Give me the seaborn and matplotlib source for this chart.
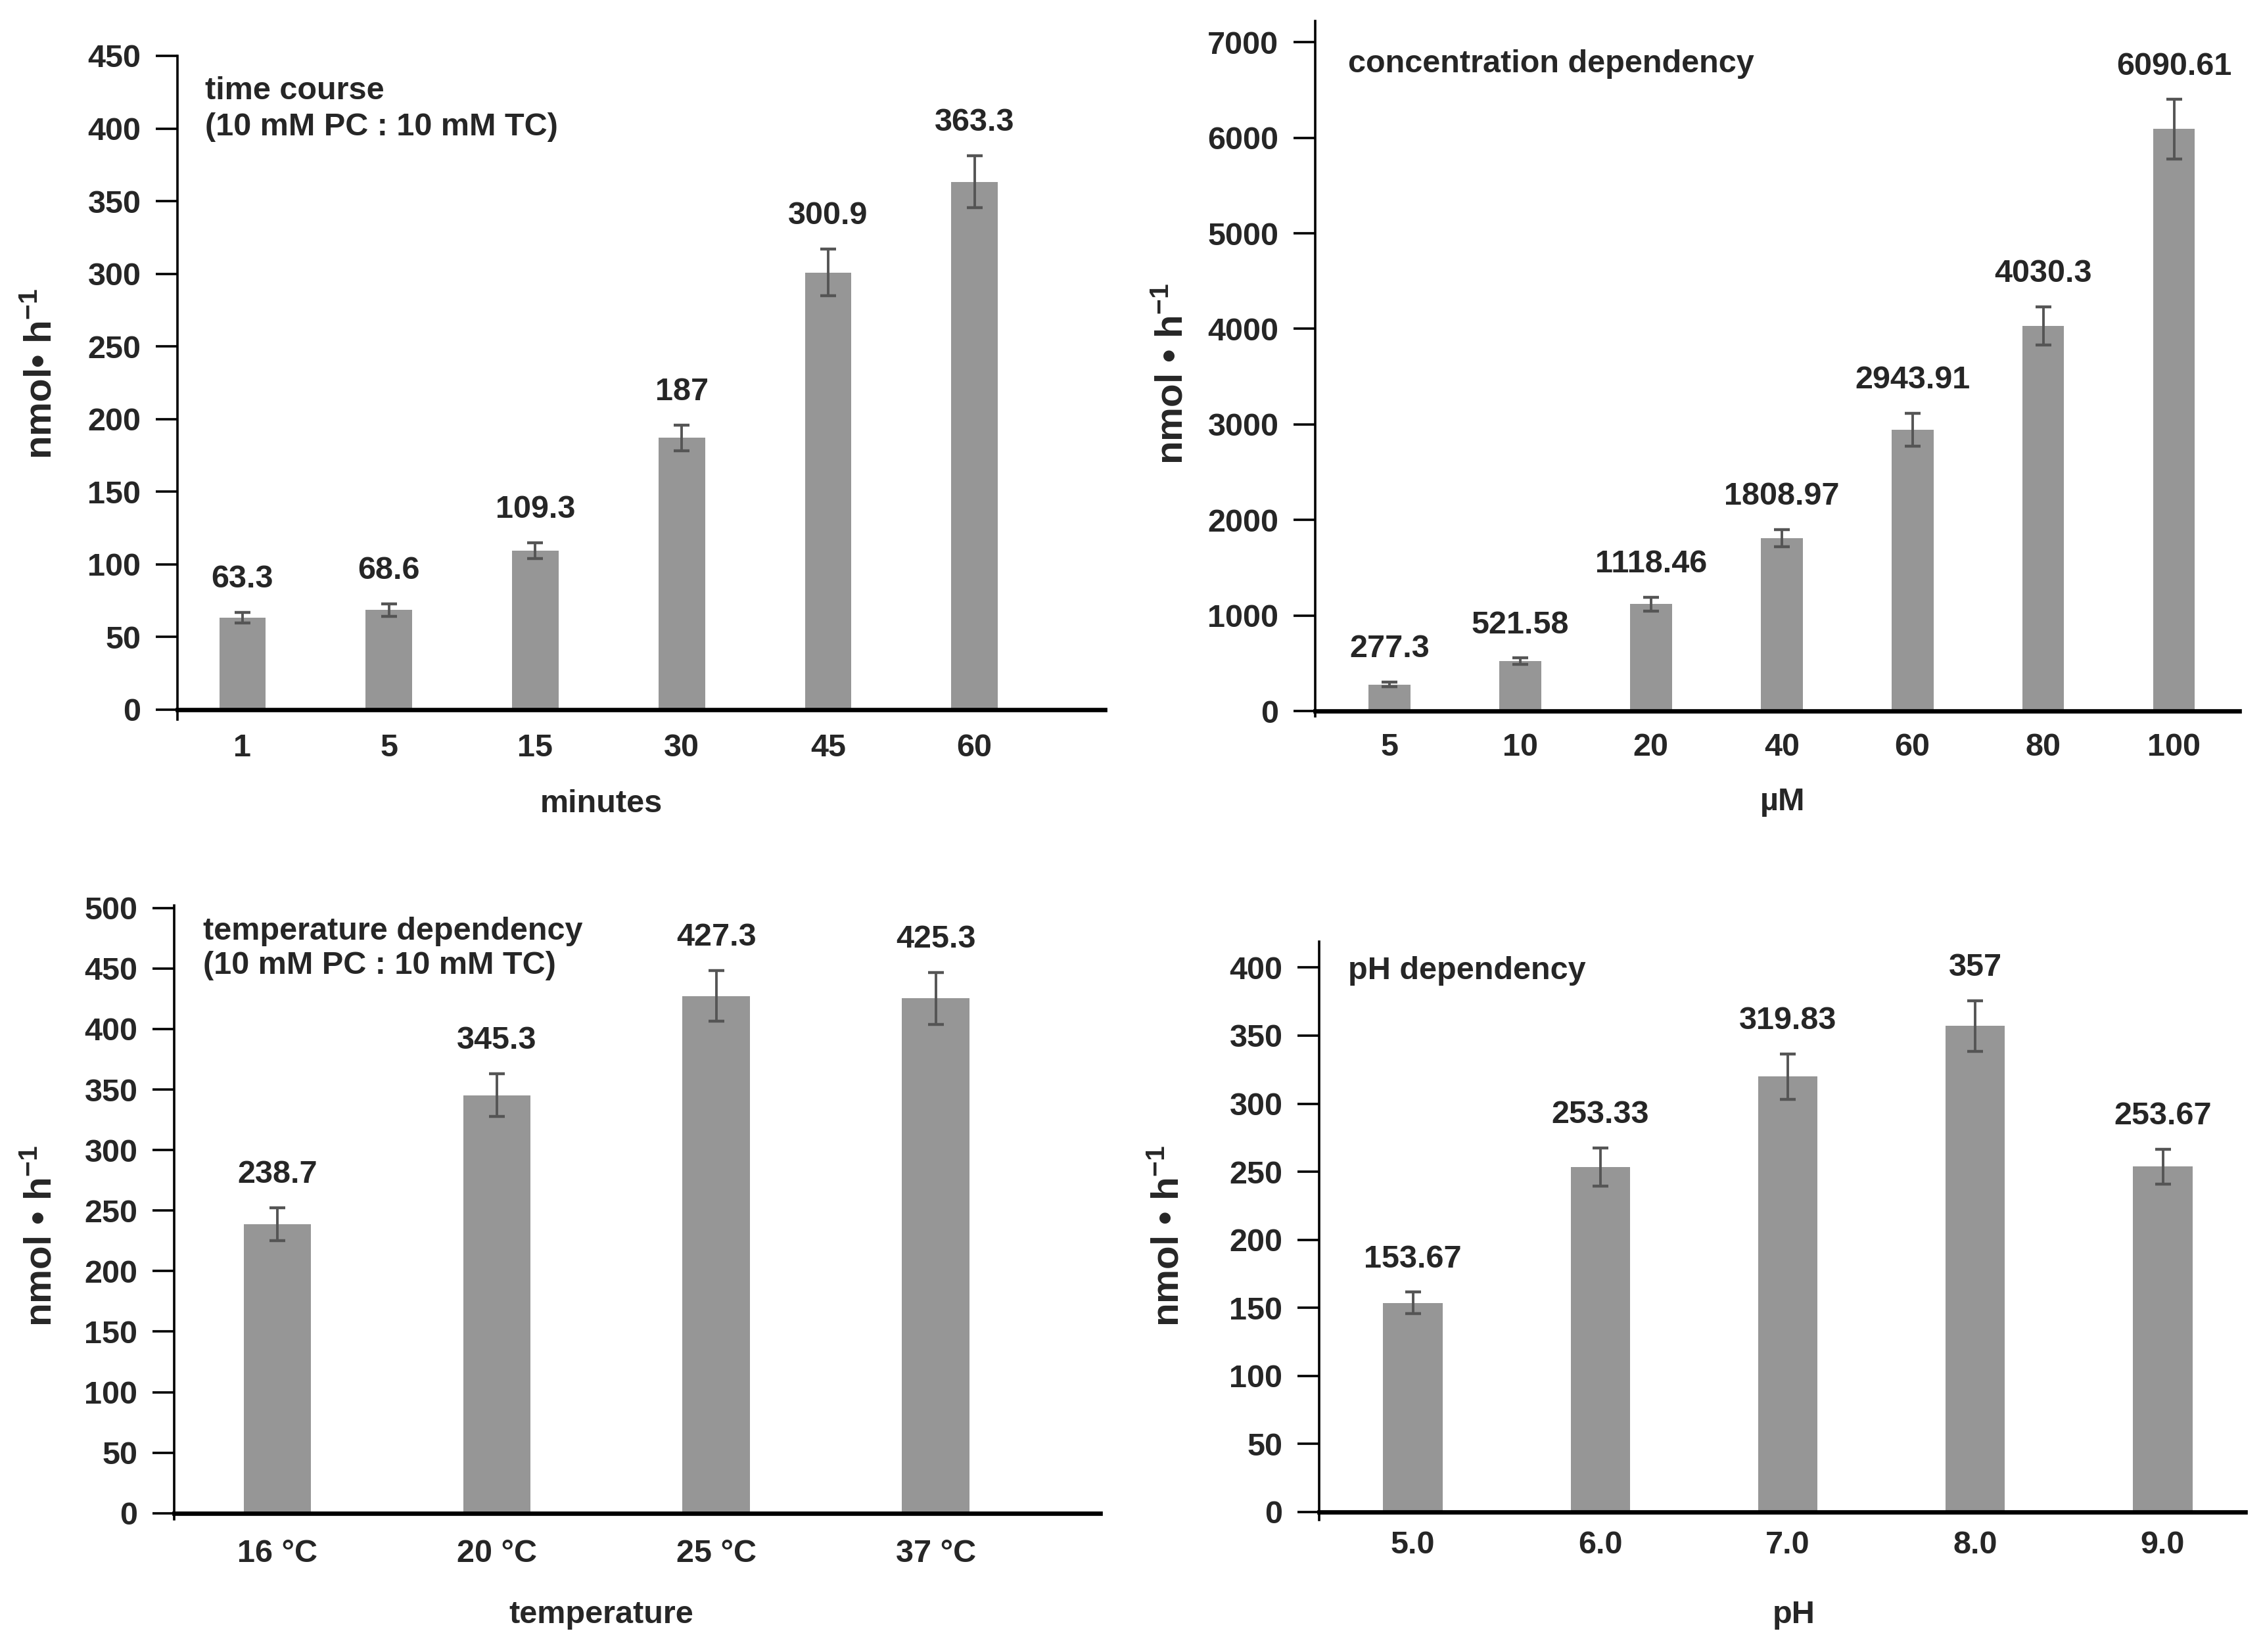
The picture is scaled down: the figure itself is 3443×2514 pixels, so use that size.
import matplotlib
matplotlib.use("Agg")
import matplotlib.pyplot as plt
import seaborn as sns
import pandas as pd

# ---- data ----
minutes = ["1", "5", "15", "30", "45", "60"]
time_vals = [63.3, 68.6, 109.3, 187, 300.9, 363.3]
time_err = [3.5, 4.4, 5.5, 9, 16, 18]

conc_um = ["5", "10", "20", "40", "60", "80", "100"]
conc_vals = [277.3, 521.58, 1118.46, 1808.97, 2943.91, 4030.3, 6090.61]
conc_err = [25, 33, 70, 90, 175, 200, 310]

temps = ["16 \u00b0C", "20 \u00b0C", "25 \u00b0C", "37 \u00b0C"]
temp_vals = [238.7, 345.3, 427.3, 425.3]
temp_err = [13.5, 17.7, 21, 21.5]

ph_levels = ["5.0", "6.0", "7.0", "8.0", "9.0"]
ph_vals = [153.67, 253.33, 319.83, 357, 253.67]
ph_err = [7.8, 14, 16.7, 18.5, 13]

W, H = 3443, 2514
DPI = 200
BAR = "#969696"
ERR = "#555555"

sns.set_theme(style="white")
plt.rcParams["font.family"] = ["Liberation Sans", "DejaVu Sans"]
plt.rcParams["font.weight"] = "bold"
plt.rcParams["mathtext.fontset"] = "custom"
plt.rcParams["mathtext.rm"] = "Liberation Sans:bold"
plt.rcParams["mathtext.bf"] = "Liberation Sans:bold"
plt.rcParams["mathtext.default"] = "bf"

fig = plt.figure(figsize=(W / DPI, H / DPI), dpi=DPI)


def fxy(x, y):
    return x / W, 1 - y / H


def panel(box, cats, vals, errs, width, ylim, yticks, xlim, xlabel, ylabel,
          note, note_xy, ylab_xy, xlab_xy, xpad, linesp=1.25):
    l, t, r, b = box
    ax = fig.add_axes([l / W, 1 - b / H, (r - l) / W, (b - t) / H])
    df = pd.DataFrame({"cat": cats, "val": vals})
    sns.barplot(data=df, x="cat", y="val", order=cats, color=BAR, saturation=1,
                width=width, errorbar=None, edgecolor="none", ax=ax)
    ax.errorbar(range(len(cats)), vals, yerr=errs, fmt="none", ecolor=ERR,
                elinewidth=1.4, capsize=4.2, capthick=1.6, zorder=3)
    for i, (v, e) in enumerate(zip(vals, errs)):
        ax.annotate(f"{v:g}", (i, v + e), xytext=(0, 10), textcoords="offset points",
                    ha="center", va="bottom", fontsize=17.5, fontweight="bold")

    ax.set_xlim(*xlim)
    ax.set_ylim(*ylim)
    ax.set_yticks(yticks)
    for s in ("top", "right"):
        ax.spines[s].set_visible(False)
    ax.spines["left"].set_linewidth(1.3)
    ax.spines["left"].set_color("black")
    ax.spines["bottom"].set_position(("data", 0))
    ax.spines["bottom"].set_linewidth(2.4)
    ax.spines["bottom"].set_color("black")
    ax.spines["bottom"].set_zorder(4)

    ax.tick_params(axis="y", left=True, direction="out", length=12, width=1.3,
                   pad=8, labelsize=17.5, color="black")
    ax.tick_params(axis="x", bottom=False, length=0, pad=xpad, labelsize=17.5)

    ax.set_xlabel(xlabel, fontsize=17.5, fontweight="bold")
    ax.xaxis.set_label_coords(*fxy(*xlab_xy), transform=fig.transFigure)
    ax.xaxis.label.set_va("center")
    ax.set_ylabel(ylabel, fontsize=21, fontweight="bold")
    ax.yaxis.set_label_coords(*fxy(*ylab_xy), transform=fig.transFigure)
    ax.yaxis.label.set_va("center")

    fig.text(*fxy(*note_xy), note, ha="left", va="center", fontsize=17.5,
             fontweight="bold", linespacing=linesp)
    return ax


ylab = "nmol \u2022 h$^{-1}$"

panel((270, 85, 1681, 1094.5), minutes, time_vals, time_err, 0.317,
      (-6.6, 450), range(0, 451, 50), (-0.444, 5.89), "minutes",
      "nmol\u2022 h$^{-1}$",
      "time course\n(10 mM PC : 10 mM TC)", (312, 166), (63, 569), (915, 1224), 13,
      linesp=1.3)

panel((2001, 32, 3407, 1090), conc_um, conc_vals, conc_err, 0.32,
      (-55, 7222), range(0, 7001, 1000), (-0.568, 6.5), "\u00b5M", ylab,
      "concentration dependency", (2051, 97), (1783, 569), (2712, 1220), 12)

panel((265, 1378, 1674, 2312), temps, temp_vals, temp_err, 0.307,
      (-5, 502), range(0, 501, 50), (-0.47, 3.75), "temperature", ylab,
      "temperature dependency\n(10 mM PC : 10 mM TC)", (309, 1443), (63, 1881),
      (915, 2458), 14, linesp=1.2)

panel((2007, 1433, 3416, 2313), ph_levels, ph_vals, ph_err, 0.317,
      (-5.8, 419), range(0, 401, 50), (-0.5, 4.44), "pH", ylab,
      "pH dependency", (2051, 1477), (1778, 1881), (2729, 2458), 10)

fig.savefig("out.png", dpi=DPI, facecolor="white")
